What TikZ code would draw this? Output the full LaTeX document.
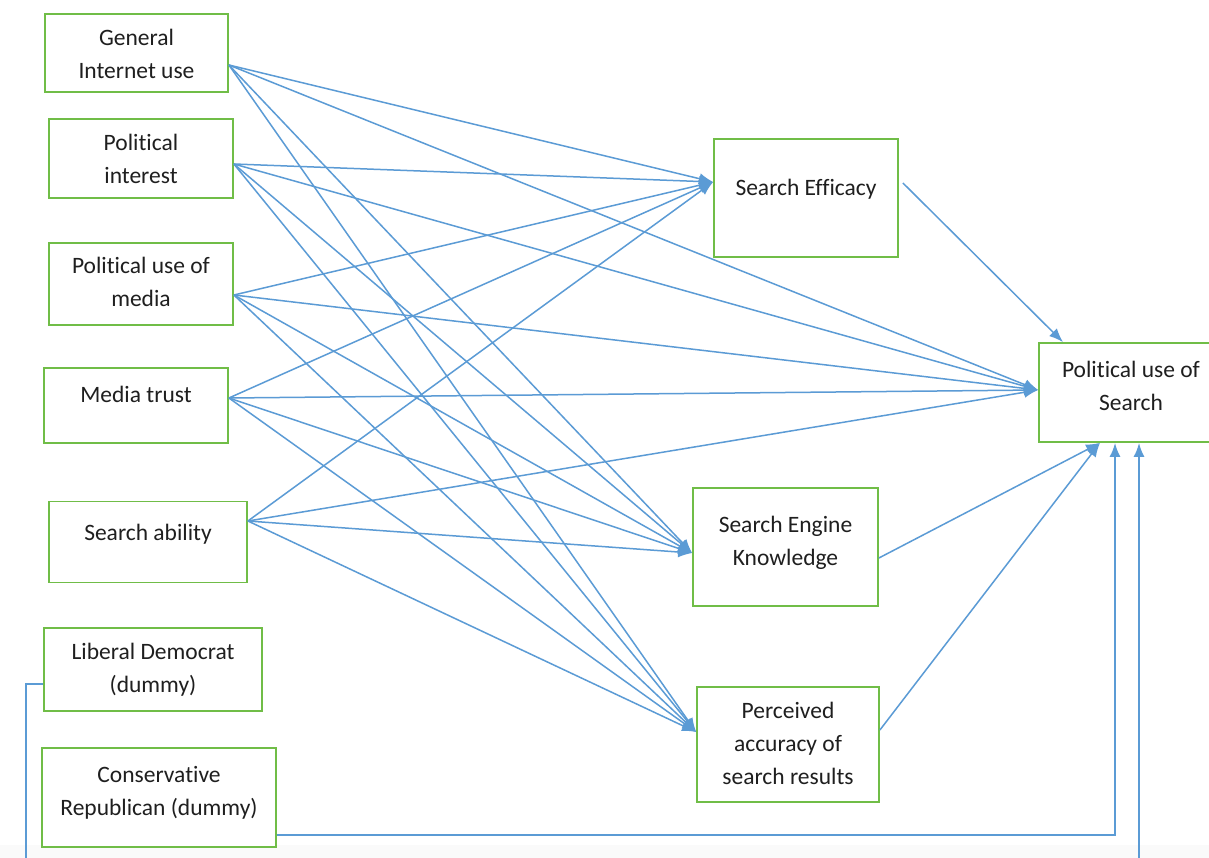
\documentclass[tikz,border=0pt]{standalone}
\usepackage{fontspec}
\setmainfont{Carlito}[Ligatures=CommonOff]
\usetikzlibrary{arrows.meta}
\definecolor{lineblue}{RGB}{91,155,213}
\definecolor{boxgreen}{RGB}{112,189,71}
\tikzset{
  box/.style={draw=boxgreen, line width=1.8pt, fill=white, inner sep=0pt},
  lbl/.style={font=\fontsize{23.5}{33}\selectfont, align=center, anchor=north, inner sep=0pt, text=black!88},
  conn/.style={draw=lineblue, line width=1.5pt, -{Latex[length=14pt,width=11pt]}},
  route/.style={draw=lineblue, line width=1.8pt},
}
\begin{document}
\begin{tikzpicture}[x=1pt,y=-1pt]
\useasboundingbox (0,0) rectangle (1209,858);
\clip (0,0) rectangle (1209,858);
\fill[white] (0,0) rectangle (1209,858);
\fill[black!2] (0,845) rectangle (1209,858);

% left boxes
\node[box, minimum width=183pt, minimum height=78pt] (giu) at (136.5,53) {};
\node[box, minimum width=184pt, minimum height=79pt] (pi) at (141,158.5) {};
\node[box, minimum width=184pt, minimum height=82pt] (pum) at (141,284) {};
\node[box, minimum width=184pt, minimum height=75pt] (mt) at (136,405.5) {};
\node[box, minimum width=198pt, minimum height=81pt] (sa) at (148,542) {};
\node[box, minimum width=218pt, minimum height=83pt] (ld) at (153,669.5) {};
\node[box, minimum width=234pt, minimum height=99pt] (cr) at (159,797.5) {};
% middle boxes
\node[box, minimum width=184pt, minimum height=118pt] (se) at (806,198) {};
\node[box, minimum width=185pt, minimum height=118pt] (sek) at (785.5,547) {};
\node[box, minimum width=182pt, minimum height=115pt] (pasr) at (788,744.5) {};
% right box
\node[box, minimum width=184pt, minimum height=99pt] (pus) at (1131,392.5) {};

% labels
\node[lbl] (giuT) at ([yshift=-15.5pt]giu.north) {General\\Internet use};
\node[lbl] (piT) at ([yshift=-15.5pt]pi.north) {Political\\interest};
\node[lbl] (pumT) at ([yshift=-14.5pt]pum.north) {Political use of\\media};
\node[lbl] (mtT) at ([yshift=-18.5pt]mt.north) {Media trust};
\node[lbl] (saT) at ([yshift=-23.5pt]sa.north) {Search ability};
\node[lbl] (ldT) at ([yshift=-15.5pt]ld.north) {Liberal Democrat\\(dummy)};
\node[lbl] (crT) at ([yshift=-19.5pt]cr.north) {Conservative\\Republican (dummy)};
\node[lbl] (seT) at ([yshift=-41pt]se.north) {Search Efficacy};
\node[lbl] (sekT) at ([yshift=-28.5pt]sek.north) {Search Engine\\Knowledge};
\node[lbl] (pasrT) at ([yshift=-15.5pt]pasr.north) {Perceived\\accuracy of\\search results};
\node[lbl] (pusT) at ([yshift=-18.5pt]pus.north) {Political use of\\Search};

% ports
\coordinate (giuO) at ([yshift=-12pt]giu.east);
\coordinate (piO) at ([yshift=-5.5pt]pi.east);
\coordinate (pumO) at ([yshift=-11pt]pum.east);
\coordinate (mtO) at ([yshift=7.5pt]mt.east);
\coordinate (saO) at ([yshift=21pt]sa.east);
\coordinate (seI) at ([yshift=16pt]se.west);
\coordinate (pusI) at ([yshift=2.5pt]pus.west);
\coordinate (sekI) at ([yshift=-6pt]sek.west);
\coordinate (pasrI) at ([yshift=12.5pt]pasr.west);
\coordinate (seO) at ([xshift=4pt,yshift=15pt]se.east);
\coordinate (pusN) at ([xshift=-68pt]pus.north);
\coordinate (pusS) at ([xshift=-31pt]pus.south);
\coordinate (sekO) at ([yshift=-11pt]sek.east);
\coordinate (pasrO) at ([yshift=14.5pt]pasr.east);
\coordinate (crO) at ([yshift=-37.5pt]cr.east);
\coordinate (ldO) at ([yshift=-14.5pt]ld.west);
\coordinate (pusS1) at ([xshift=-16pt]pus.south);
\coordinate (pusS2) at ([xshift=8pt]pus.south);

\foreach \s in {giuO,piO,pumO,mtO,saO}
  \foreach \t in {seI,pusI,sekI,pasrI}
    \draw[conn] (\s) -- (\t);

\draw[conn] (seO) -- (pusN);
\draw[conn] (sekO) -- (pusS);
\draw[conn] (pasrO) -- (pusS);
\draw[route, -{Latex[length=14pt,width=11pt]}] (crO) -| (pusS1);
\draw[route, -{Latex[length=14pt,width=11pt]}] (ldO) -- ++(-17,0) -- ++(0,200) -| (pusS2);
\end{tikzpicture}
\end{document}
